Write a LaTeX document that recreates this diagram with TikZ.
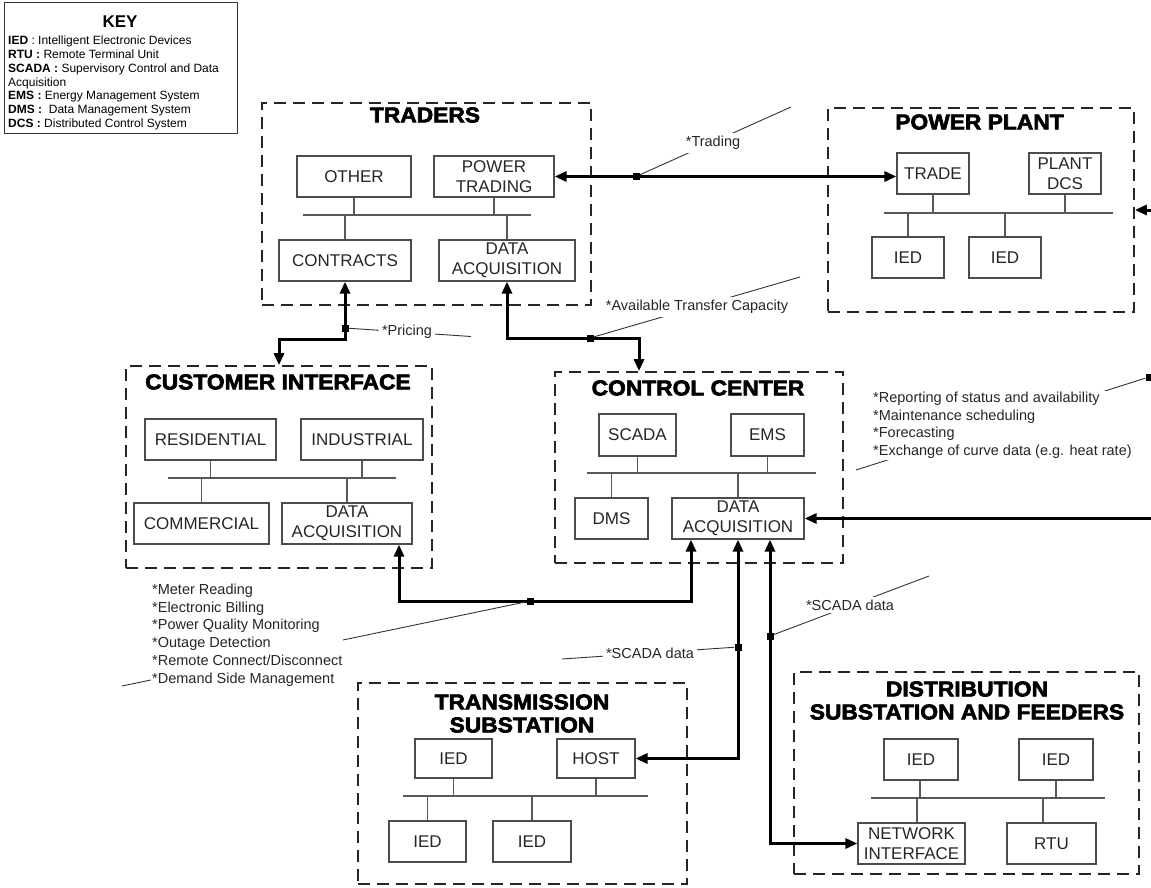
\documentclass[tikz,border=0pt]{standalone}
\usepackage{fontspec}
\setmainfont{Liberation Sans}
\newfontfamily\titlefam{Liberation Sans}[BoldFeatures={FakeBold=3,FakeStretch=1.06}]
\usetikzlibrary{arrows.meta}

\begin{document}
\begin{tikzpicture}[x=1pt,y=-1pt,
  group/.style={draw=black!85, line width=1.7pt, dash pattern=on 12pt off 7pt, inner sep=0pt},
  unit/.style={draw=black!70, line width=1.2pt, inner sep=0pt, align=center,
    text=black!85, font=\fontsize{17}{20}\selectfont},
  bus/.style={draw=black!65, line width=1.2pt},
  heading/.style={inner sep=0pt, align=center, font=\titlefam\bfseries\fontsize{21.5}{23}\selectfont},
  link/.style={line width=3pt, {Triangle[length=12pt,width=10pt]}-{Triangle[length=12pt,width=10pt]}},
  feed/.style={line width=3pt, -{Triangle[length=12pt,width=10pt]}},
  junction/.style={fill=black, minimum size=7pt, inner sep=0pt},
  leader/.style={draw=black!80, line width=0.9pt},
  note/.style={fill=white, inner sep=3pt, text=black!85, font=\fontsize{14.5}{17.8}\selectfont},
  notes/.style={fill=white, inner sep=1pt, align=left, text=black!85, anchor=north west,
    font=\fontsize{14.5}{17.8}\selectfont}
]
\useasboundingbox (0,0) rectangle (1151,888);
\clip (0,0) rectangle (1151,888);

% ---------- key ----------
\node[draw=black!80, line width=1pt, minimum width=233pt, minimum height=131pt, inner sep=0pt]
  (keybox) at (120.5,68.5) {};
\node[inner sep=0pt, font=\bfseries\fontsize{17}{19}\selectfont] (keytitle) at (120,22) {KEY};
\node[inner sep=0pt, anchor=north west, align=left, font=\fontsize{12}{13.9}\selectfont]
  (keytext) at (8,35.5) {%
  \textbf{IED} : Intelligent Electronic Devices\\
  \textbf{RTU :} Remote Terminal Unit\\
  \textbf{SCADA :} Supervisory Control and Data\\
  Acquisition\\
  \textbf{EMS :} Energy Management System\\
  \textbf{DMS :}\ \ Data Management System\\
  \textbf{DCS :} Distributed Control System};

% ---------- traders ----------
\node[group, minimum width=329pt, minimum height=202pt] (traders) at (426.5,204) {};
\node[heading] (tradersT) at (425,115) {TRADERS};
\node[unit, minimum width=114pt, minimum height=41pt] (other) at (354,176.5) {OTHER};
\node[unit, minimum width=120pt, minimum height=41pt] (ptrade) at (494,176.5) {POWER\\TRADING};
\node[unit, minimum width=132pt, minimum height=41pt] (contracts) at (345,260.5) {CONTRACTS};
\node[unit, minimum width=136pt, minimum height=41pt] (tda) at (507,260.5) {DATA\\ACQUISITION};
\coordinate (tbusL) at (303,215);
\coordinate (tbusR) at (531,215);
\draw[bus] (tbusL) -- (tbusR);
\foreach \n in {other,ptrade} \draw[bus] (\n.south) -- (\n.south |- tbusL);
\foreach \n in {contracts,tda} \draw[bus] (\n.north) -- (\n.north |- tbusL);

% ---------- power plant ----------
\node[group, minimum width=306pt, minimum height=204pt] (pp) at (981,210) {};
\node[heading] (ppT) at (979.5,122) {POWER PLANT};
\node[unit, minimum width=72pt, minimum height=41pt] (trade) at (933,173.5) {TRADE};
\node[unit, minimum width=72pt, minimum height=41pt] (pdcs) at (1065,173.5) {PLANT\\DCS};
\node[unit, minimum width=72pt, minimum height=41pt] (pied1) at (908,257.5) {IED};
\node[unit, minimum width=72pt, minimum height=41pt] (pied2) at (1005,257.5) {IED};
\coordinate (pbusL) at (884,213);
\coordinate (pbusR) at (1113,213);
\draw[bus] (pbusL) -- (pbusR);
\foreach \n in {trade,pdcs} \draw[bus] (\n.south) -- (\n.south |- pbusL);
\foreach \n in {pied1,pied2} \draw[bus] (\n.north) -- (\n.north |- pbusL);

% ---------- customer interface ----------
\node[group, minimum width=306pt, minimum height=202pt] (ci) at (279,467) {};
\node[heading] (ciT) at (278,382) {CUSTOMER INTERFACE};
\node[unit, minimum width=131pt, minimum height=41pt] (res) at (210.5,439.5) {RESIDENTIAL};
\node[unit, minimum width=122pt, minimum height=41pt] (ind) at (362,439.5) {INDUSTRIAL};
\node[unit, minimum width=135pt, minimum height=41pt] (com) at (201.5,523.5) {COMMERCIAL};
\node[unit, minimum width=130pt, minimum height=41pt] (cida) at (347,523.5) {DATA\\ACQUISITION};
\coordinate (cbusL) at (168,478);
\coordinate (cbusR) at (396,478);
\draw[bus] (cbusL) -- (cbusR);
\foreach \n in {res,ind} \draw[bus] (\n.south) -- (\n.south |- cbusL);
\foreach \n in {com,cida} \draw[bus] (\n.north) -- (\n.north |- cbusL);

% ---------- control center ----------
\node[group, minimum width=288pt, minimum height=191pt] (cc) at (699,467.5) {};
\node[heading] (ccT) at (698,388) {CONTROL CENTER};
\node[unit, minimum width=77pt, minimum height=42pt] (scada) at (637.5,435) {SCADA};
\node[unit, minimum width=73pt, minimum height=42pt] (ems) at (767.5,435) {EMS};
\node[unit, minimum width=73pt, minimum height=41pt] (dms) at (611.5,518.5) {DMS};
\node[unit, minimum width=132pt, minimum height=41pt] (ccda) at (738,518.5) {DATA\\ACQUISITION};
\coordinate (ccbusL) at (587,473);
\coordinate (ccbusR) at (816,473);
\draw[bus] (ccbusL) -- (ccbusR);
\foreach \n in {scada,ems} \draw[bus] (\n.south) -- (\n.south |- ccbusL);
\foreach \n in {dms,ccda} \draw[bus] (\n.north) -- (\n.north |- ccbusL);

% ---------- transmission substation ----------
\node[group, minimum width=329pt, minimum height=201pt] (ts) at (522.5,783.5) {};
\node[heading] (tsT) at (522,713.5) {TRANSMISSION\\SUBSTATION};
\node[unit, minimum width=77pt, minimum height=39pt] (tsied1) at (453.5,758.5) {IED};
\node[unit, minimum width=78pt, minimum height=39pt] (host) at (596,758.5) {HOST};
\node[unit, minimum width=77pt, minimum height=41pt] (tsied2) at (427.5,841.5) {IED};
\node[unit, minimum width=78pt, minimum height=41pt] (tsied3) at (532,841.5) {IED};
\coordinate (tsbusL) at (403,796);
\coordinate (tsbusR) at (648,796);
\draw[bus] (tsbusL) -- (tsbusR);
\foreach \n in {tsied1,host} \draw[bus] (\n.south) -- (\n.south |- tsbusL);
\foreach \n in {tsied2,tsied3} \draw[bus] (\n.north) -- (\n.north |- tsbusL);

% ---------- distribution substation ----------
\node[group, minimum width=345pt, minimum height=202pt] (ds) at (966.5,773) {};
\node[heading] (dsT) at (967,700.5) {DISTRIBUTION\\SUBSTATION AND FEEDERS};
\node[unit, minimum width=74pt, minimum height=41pt] (dsied1) at (921,759.5) {IED};
\node[unit, minimum width=74pt, minimum height=41pt] (dsied2) at (1056,759.5) {IED};
\node[unit, minimum width=107pt, minimum height=41pt] (ni) at (911.5,843.5) {NETWORK\\INTERFACE};
\node[unit, minimum width=89pt, minimum height=41pt] (rtu) at (1051.5,843.5) {RTU};
\coordinate (dsbusL) at (871,798);
\coordinate (dsbusR) at (1105,798);
\draw[bus] (dsbusL) -- (dsbusR);
\draw[bus] ([xshift=-1pt]dsied1.south) -- ([xshift=-1pt]dsied1.south |- dsbusL);
\draw[bus] (dsied2.south) -- (dsied2.south |- dsbusL);
\draw[bus] ([xshift=5.5pt]ni.north) -- ([xshift=5.5pt]ni.north |- dsbusL);
\draw[bus] ([xshift=-8.5pt]rtu.north) -- ([xshift=-8.5pt]rtu.north |- dsbusL);

% ---------- communication links ----------
\draw[link] (ptrade.east) -- (ptrade.east -| trade.west);
\draw[link] (contracts.south) -- (contracts.south |- 0,339) -| (ci.north);
\draw[link] (tda.south) -- (tda.south |- 0,338) -| ([xshift=-60pt]cc.north);
\draw[link] ([xshift=52pt]cida.south) -- ++(0,57) -| ([xshift=-47pt]ccda.south);
\draw[link] (ccda.south) |- (host.east);
\draw[link] ([xshift=32pt]ccda.south) |- (ni.west);
\coordinate (offR1) at (1165,518.5);
\coordinate (offR2) at (1165,210);
\draw[feed] (offR1) -- (ccda.east);
\draw[feed] (offR2) -- (offR2 -| pp.east);

% ---------- junctions and callouts ----------
\node[junction] (jTrade) at (636,176.5) {};
\node[junction] (jPrice) at (345,328) {};
\node[junction] (jATC) at (590,338) {};
\node[junction] (jCust) at (530,601) {};
\node[junction] (jScadaT) at (738,647) {};
\node[junction] (jScadaD) at (770,636) {};
\node[junction] (jReport) at (1149,377) {};

\coordinate (eTrade) at (791,107);
\coordinate (ePrice) at (471,336.5);
\coordinate (eATC) at (800,277);
\coordinate (eCust) at (122,686);
\coordinate (eScadaT) at (562,659);
\coordinate (eScadaD) at (929,576);
\coordinate (eReport) at (856,470);

\draw[leader] (jTrade) -- (eTrade);
\draw[leader] (jPrice) -- (ePrice);
\draw[leader] (jATC) -- (eATC);
\draw[leader] (jCust) -- (eCust);
\draw[leader] (jScadaT) -- (eScadaT);
\draw[leader] (jScadaD) -- (eScadaD);
\draw[leader] (jReport) -- (eReport);

\node[note] (nTrade) at (713,143) {*Trading};
\node[note] (nPrice) at (407,332) {*Pricing};
\node[note] (nATC) at (697,307) {*Available Transfer Capacity};
\node[note] (nScadaT) at (650,653) {*SCADA data};
\node[note] (nScadaD) at (850,605) {*SCADA data};
\node[notes] (nCust) at (151,582.5) {*Meter Reading\\*Electronic Billing\\*Power Quality Monitoring\\*Outage Detection\\*Remote Connect/Disconnect\\*Demand Side Management};
\node[notes] (nReport) at (872,390.5) {*Reporting of status and availability\\*Maintenance scheduling\\*Forecasting\\*Exchange of curve data (e.g. heat rate)};
\end{tikzpicture}
\end{document}
